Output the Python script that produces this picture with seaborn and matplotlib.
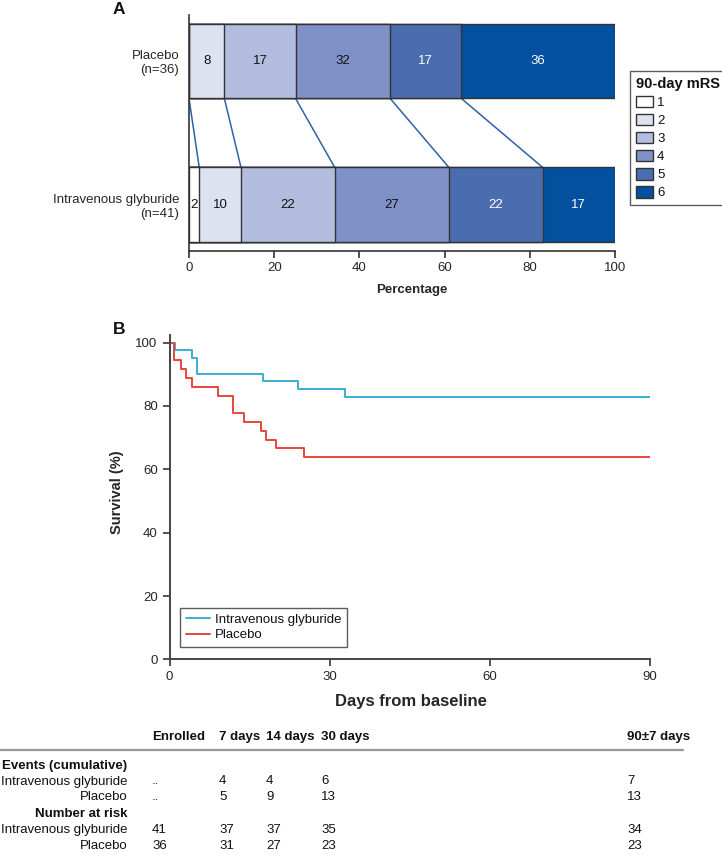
import matplotlib
matplotlib.use("Agg")
import matplotlib.pyplot as plt
import seaborn as sns
import numpy as np
import pandas as pd
from matplotlib.patches import Patch
from matplotlib.lines import Line2D

# ---------------- data ----------------
groups = ["Placebo\n(n=36)", "Intravenous glyburide\n(n=41)"]
mrs_levels = ["1", "2", "3", "4", "5", "6"]
placebo_pct = [0.0, 8.3, 16.7, 22.2, 16.7, 36.1]
glyb_pct = [2.4, 9.8, 22.0, 26.8, 22.0, 17.0]
placebo_labels = ["", "8", "17", "32", "17", "36"]
glyb_labels = ["2", "10", "22", "27", "22", "17"]
mrs_colors = ["#ffffff", "#dde2f0", "#b3bedf", "#7f92c7", "#4a6db0", "#02509e"]

gly_days = [0, 1.0, 4.2, 5.2, 17.5, 24.1, 32.9, 90]
gly_surv = [100, 97.6, 95.1, 90.2, 87.8, 85.4, 82.9, 82.9]
pla_days = [0, 0.9, 2.2, 3.0, 4.2, 9.0, 11.9, 14.0, 17.1, 18.0, 20.0, 25.2, 90]
pla_surv = [100, 94.4, 91.7, 88.9, 86.1, 83.3, 77.8, 75.0, 72.2, 69.4, 66.7, 63.9, 63.9]
km_labels = ["Intravenous glyburide", "Placebo"]
km_colors = ["#3aaed2", "#e9453b"]

table_cols = ["Enrolled", "7 days", "14 days", "30 days", "90\u00b17 days"]
events_gly = ["..", "4", "4", "6", "7"]
events_pla = ["..", "5", "9", "13", "13"]
risk_gly = ["41", "37", "37", "35", "34"]
risk_pla = ["36", "31", "27", "23", "23"]

# ---------------- setup ----------------
W, H = 722, 856
sns.set_theme(style="ticks")
plt.rcParams["font.family"] = ["Liberation Sans", "DejaVu Sans"]
plt.rcParams["text.color"] = "#111111"

fig = plt.figure(figsize=(W / 100, H / 100), dpi=100)


def fx(x):
    return x / W


def fy(y):
    return 1 - y / H


def box(l, t, r, b):
    return [l / W, 1 - b / H, (r - l) / W, (b - t) / H]


FS = 9.5

# ---------------- panel A ----------------
axA = fig.add_axes(box(189, 15, 615, 250.7))
pla_cum = np.cumsum(placebo_pct)
gly_cum = np.cumsum(glyb_pct)
bar_h = 0.52
for k in reversed(range(6)):
    d = pd.DataFrame({"group": groups, "cum": [pla_cum[k], gly_cum[k]]})
    sns.barplot(data=d, x="cum", y="group", order=groups, orient="h",
                color=mrs_colors[k], saturation=1, width=bar_h,
                edgecolor="#333333", linewidth=1.0, ax=axA)

for k in range(6):
    for i, (cum, pct, lab) in enumerate([(pla_cum, placebo_pct, placebo_labels),
                                          (gly_cum, glyb_pct, glyb_labels)]):
        if lab[k]:
            axA.text(cum[k] - pct[k] / 2, i, lab[k], ha="center", va="center",
                     fontsize=FS, color="white" if k >= 4 else "#111111")

for k in range(5):
    axA.plot([pla_cum[k], gly_cum[k]], [0 + bar_h / 2, 1 - bar_h / 2],
             color="#2d62a6", lw=1.1, zorder=0)

axA.set_xlim(0, 100)
axA.set_ylim(1.32, -0.32)
axA.set_xticks([0, 20, 40, 60, 80, 100])
axA.set_ylabel("")
axA.set_xlabel("Percentage", fontsize=FS, fontweight="bold")
axA.xaxis.set_label_coords((412 - 189) / 426, -(284 - 250.7) / 235.7)
for s in ["top", "right"]:
    axA.spines[s].set_visible(False)
for s in ["left", "bottom"]:
    axA.spines[s].set_color("#333333")
    axA.spines[s].set_linewidth(1.2)
axA.tick_params(axis="x", length=5, width=1.2, color="#333333", labelsize=FS, pad=3)
axA.tick_params(axis="y", length=0, labelsize=FS, pad=7)
for t in axA.get_yticklabels():
    t.set_ha("right")
    t.set_multialignment("right")

handlesA = [Patch(facecolor=c, edgecolor="#333333", linewidth=1.0, label=l)
            for c, l in zip(mrs_colors, mrs_levels)]
legA = fig.legend(handles=handlesA, title="90-day mRS", loc="upper left",
                  bbox_to_anchor=(fx(630), fy(71)), frameon=True, fancybox=False,
                  edgecolor="#333333", fontsize=FS,
                  title_fontproperties={"weight": "bold", "size": 10.5},
                  handlelength=1.3, handleheight=1.0, handletextpad=0.3,
                  labelspacing=0.35, borderpad=0.45, borderaxespad=0,
                  alignment="left")
legA.get_frame().set_linewidth(1.0)

fig.text(fx(119), fy(9), "A", fontsize=12.5, fontweight="bold", ha="center", va="center")

# ---------------- panel B ----------------
axB = fig.add_axes(box(169.5, 335, 650, 659.4))
for days, surv, lab, col in [(gly_days, gly_surv, km_labels[0], km_colors[0]),
                             (pla_days, pla_surv, km_labels[1], km_colors[1])]:
    d = pd.DataFrame({"day": days, "surv": surv})
    sns.lineplot(data=d, x="day", y="surv", drawstyle="steps-post", color=col,
                 lw=1.4, ax=axB, label=lab, estimator=None)

axB.set_xlim(0, 90)
axB.set_ylim(0, 102.4)
axB.set_xticks([0, 30, 60, 90])
axB.set_yticks([0, 20, 40, 60, 80, 100])
for s in ["top", "right"]:
    axB.spines[s].set_visible(False)
for s in ["left", "bottom"]:
    axB.spines[s].set_color("#444444")
    axB.spines[s].set_linewidth(1.4)
axB.tick_params(axis="both", length=5, width=1.3, color="#444444", labelsize=FS, pad=3.5)
axB.set_xlabel("Days from baseline", fontsize=12, fontweight="bold")
axB.xaxis.set_label_coords((411 - 169.5) / 480.5, -(694 - 659.4) / 324.4)
axB.set_ylabel("Survival (%)", fontsize=10.5, fontweight="bold")
axB.yaxis.set_label_coords(-(169.5 - 124) / 480.5, (659.4 - 492) / 324.4)

legB = axB.legend(loc="upper left", bbox_to_anchor=(fx(180), fy(607.7)),
                  bbox_transform=fig.transFigure, frameon=True, fancybox=False,
                  edgecolor="#333333", fontsize=FS, handlelength=1.8,
                  handletextpad=0.4, labelspacing=0.25, borderpad=0.45,
                  borderaxespad=0)
legB.get_frame().set_linewidth(1.0)

fig.text(fx(119), fy(329), "B", fontsize=12.5, fontweight="bold", ha="center", va="center")

# ---------------- table ----------------
col_x = [152, 219, 266, 321, 627]
label_r = 127
fig.add_artist(Line2D([0, fx(683)], [fy(749.5), fy(749.5)], color="#999999", lw=1.6))

for x, c in zip(col_x, table_cols):
    fig.text(fx(x), fy(737), c, fontsize=FS, fontweight="bold", ha="left", va="center")

rows = [
    (765.5, "Events (cumulative)", True, None),
    (781.5, "Intravenous glyburide", False, events_gly),
    (797.5, "Placebo", False, events_pla),
    (814, "Number at risk", True, None),
    (830, "Intravenous glyburide", False, risk_gly),
    (846, "Placebo", False, risk_pla),
]
for y, lab, bold, vals in rows:
    fig.text(fx(label_r), fy(y), lab, fontsize=FS, fontweight="bold" if bold else "normal",
             ha="right", va="center")
    if vals:
        for x, v in zip(col_x, vals):
            fig.text(fx(x), fy(y), v, fontsize=FS, ha="left", va="center")

fig.savefig("out.png", dpi=100)
